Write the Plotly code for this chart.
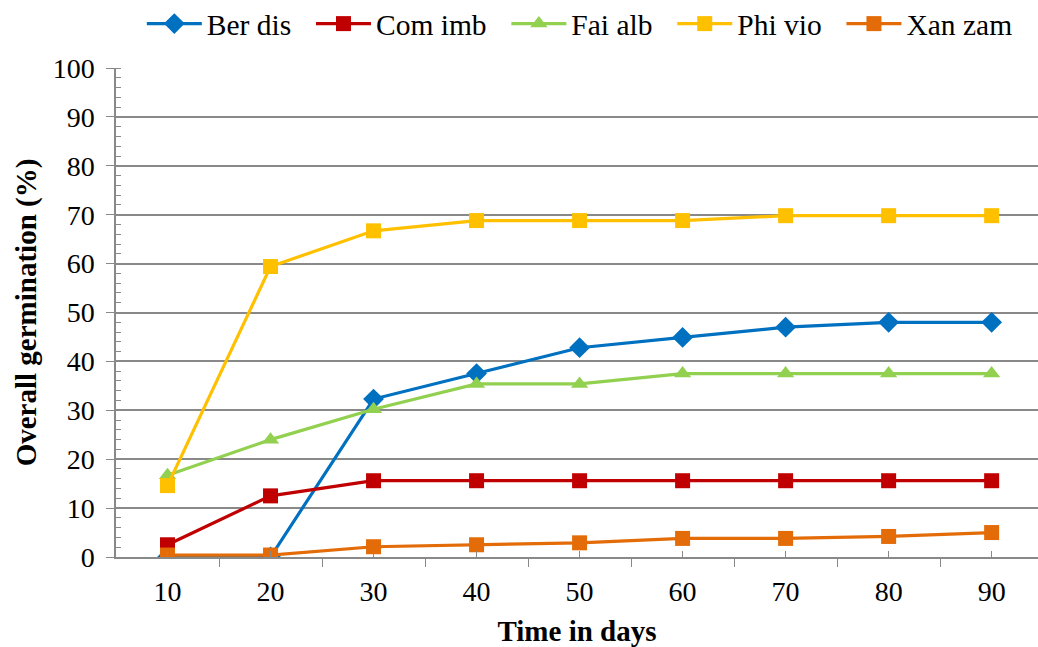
import plotly.graph_objects as go

days = [10, 20, 30, 40, 50, 60, 70, 80, 90]

ber_dis = [0, 0, 32.3, 37.5, 42.8, 44.9, 47.0, 48.0, 48.0]
com_imb = [2.5, 12.5, 15.6, 15.6, 15.6, 15.6, 15.6, 15.6, 15.6]
fai_alb = [16.7, 24.0, 30.2, 35.4, 35.4, 37.5, 37.5, 37.5, 37.5]
phi_vio = [14.6, 59.4, 66.7, 68.8, 68.8, 68.8, 69.8, 69.8, 69.8]
xan_zam = [0.4, 0.4, 2.1, 2.5, 2.9, 3.8, 3.8, 4.2, 5.0]

series = [
    ("Ber dis", ber_dis, "#0070C0", "diamond", 16),
    ("Com imb", com_imb, "#C00000", "square", 15),
    ("Fai alb", fai_alb, "#92D050", "triangle-up", 15),
    ("Phi vio", phi_vio, "#FFC000", "square", 15),
    ("Xan zam", xan_zam, "#E36C09", "square", 15),
]

FONT = "Liberation Serif"
AXIS_GRAY = "#898989"
PAD = "\u00a0\u00a0"  # extra spacing after each legend entry

fig = go.Figure()
for name, vals, color, symbol, size in series:
    fig.add_trace(go.Scatter(
        x=days, y=vals, name=name + PAD, mode="lines+markers",
        line=dict(color=color, width=3.2),
        marker=dict(symbol=symbol, size=size, color=color),
    ))

fig.update_layout(
    width=1038, height=647,
    margin=dict(l=116, r=0, t=68, b=90),
    paper_bgcolor="white", plot_bgcolor="white",
    font=dict(family=FONT, size=28, color="black"),
    legend=dict(
        orientation="h", x=0.028, y=0.963, xanchor="left", yanchor="middle",
        xref="paper", yref="container",
        font=dict(size=29.5, family=FONT, color="black"),
        itemwidth=55, tracegroupgap=0,
    ),
    xaxis=dict(
        range=[5, 94.5],
        tickvals=days, ticktext=[str(d) for d in days],
        ticks="inside", ticklen=6, tickwidth=1, tickcolor=AXIS_GRAY,
        minor=dict(tick0=5, dtick=10, ticks="outside", ticklen=8,
                   tickwidth=1, tickcolor=AXIS_GRAY, showgrid=False),
        showgrid=False, zeroline=False,
        showline=True, linecolor=AXIS_GRAY, linewidth=1.5,
        tickfont=dict(family=FONT, size=28, color="black"),
        ticklabelstandoff=9,
        title=dict(text="<b>Time in days</b>",
                   font=dict(family=FONT, size=29, color="black"), standoff=14),
    ),
    yaxis=dict(
        range=[0, 100], dtick=10, tick0=0,
        ticks="outside", ticklen=8, tickwidth=1, tickcolor=AXIS_GRAY,
        minor=dict(dtick=2, ticks="inside", ticklen=5, tickwidth=1,
                   tickcolor=AXIS_GRAY, showgrid=False),
        showgrid=True, gridcolor=AXIS_GRAY, gridwidth=1.5,
        zeroline=False,
        showline=True, linecolor=AXIS_GRAY, linewidth=1.5,
        tickfont=dict(family=FONT, size=28, color="black"),
        ticklabelstandoff=6,
        title=dict(text="<b>Overall germination (%)</b>",
                   font=dict(family=FONT, size=29, color="black"), standoff=8),
    ),
)

fig.write_html("out.html")
